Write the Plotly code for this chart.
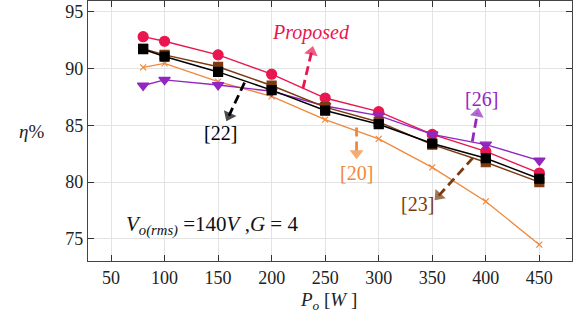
import math
import plotly.graph_objects as go

power = [80, 100, 150, 200, 250, 300, 350, 400, 450]
eff_proposed = [92.8, 92.4, 91.2, 89.5, 87.4, 86.2, 84.2, 82.7, 80.8]
eff_ref22 = [91.7, 91.05, 89.7, 88.1, 86.3, 85.1, 83.4, 82.1, 80.3]
eff_ref23 = [91.75, 91.2, 90.15, 88.5, 86.6, 85.3, 83.3, 81.75, 80.0]
eff_ref20 = [90.1, 90.45, 88.85, 87.55, 85.5, 83.8, 81.3, 78.3, 74.5]
eff_ref26 = [88.5, 89.0, 88.55, 88.0, 86.7, 85.85, 84.2, 83.3, 81.9]

xticks = [50, 100, 150, 200, 250, 300, 350, 400, 450]
yticks = [75, 80, 85, 90, 95]

C_PROP = "#E8174F"
C_22 = "#000000"
C_23 = "#7B3A10"
C_20 = "#F0883A"
C_26 = "#9326C0"

FONT = "Liberation Serif"

XR = [28.5, 480.5]
YR = [73.06, 95.94]
ML, MR, MT, MB = 88, 13, 1, 63
W, H = 585, 324
PXX = (W - ML - MR) / (XR[1] - XR[0])
PXY = (H - MT - MB) / (YR[1] - YR[0])

fig = go.Figure()

def add(y, color, symbol, size, lw=1.5):
    fig.add_trace(go.Scatter(x=power, y=y, mode="lines+markers",
                             line=dict(color=color, width=lw),
                             marker=dict(symbol=symbol, size=size, color=color,
                                         line=dict(width=1.2, color=color)),
                             showlegend=False, hoverinfo="skip"))

add(eff_ref20, C_20, "x-thin", 6, 1.3)
add(eff_proposed, C_PROP, "circle", 10, 1.4)
add(eff_ref26, C_26, "triangle-down", 10, 1.4)
add(eff_ref23, C_23, "square", 9)
add(eff_ref22, C_22, "square", 9)

# annotation arrows: (label, text pos, tail, head, color, italic)
arrows = [
    ("Proposed", (236.6, 93.2), (229.2, 88.23), (238.5, 91.94), C_PROP, True),
    ("[22]", (152.5, 84.35), (174.7, 88.76), (157.9, 85.4), C_22, False),
    ("[20]", (279.3, 80.8), (279.3, 84.8), (279.3, 82.05), C_20, False),
    ("[23]", (336.5, 78.1), (388.0, 82.14), (352.5, 78.44), C_23, False),
    ("[26]", (396.0, 87.35), (387.4, 83.58), (393.0, 86.52), C_26, False),
]

for label, tpos, tail, head, color, ital in arrows:
    dx = head[0] - tail[0]
    dy = head[1] - tail[1]
    L = math.hypot(dx * PXX, dy * PXY)
    f = 1 - 5.5 / L
    mid = (tail[0] + f * dx, tail[1] + f * dy)
    fig.add_trace(go.Scatter(x=[tail[0], mid[0]], y=[tail[1], mid[1]], mode="lines+markers",
                             line=dict(color=color, width=2.8, dash="9px,5px"),
                             marker=dict(symbol="triangle-up", size=[0, 12], color=color,
                                         angleref="previous", line=dict(width=0)),
                             showlegend=False, hoverinfo="skip"))
    txt = f"<i>{label}</i>" if ital else label
    fig.add_annotation(x=tpos[0], y=tpos[1], xref="x", yref="y", text=txt,
                       showarrow=False, font=dict(family=FONT, size=20, color=color))

fig.add_annotation(x=144, y=76.2, xref="x", yref="y",
                   text="<i>V</i><sub><i>o(rms)</i></sub> =140<i>V</i> ,<i>G</i> = 4",
                   showarrow=False, font=dict(family=FONT, size=21, color="#111"))

# axis titles
fig.add_annotation(x=(328 - ML) / (W - ML - MR), y=-(301 - (H - MB)) / (H - MT - MB),
                   xref="paper", yref="paper", xanchor="center", yanchor="middle",
                   text="<i>P</i><sub><i>o</i></sub> [<i>W</i> ]", showarrow=False,
                   font=dict(family=FONT, size=19, color="#222"))
fig.add_annotation(x=-(ML - 31) / (W - ML - MR), y=((H - MB) - 131) / (H - MT - MB),
                   xref="paper", yref="paper", xanchor="center", yanchor="middle",
                   text="<i>η</i>%", showarrow=False,
                   font=dict(family=FONT, size=19, color="#222"))

tickfont = dict(family=FONT, size=18, color="#222")
fig.update_layout(
    width=W, height=H,
    margin=dict(l=ML, r=MR, t=MT, b=MB),
    paper_bgcolor="white", plot_bgcolor="white",
    font=dict(family=FONT, size=18, color="#222"),
    xaxis=dict(range=XR, tickvals=xticks, ticktext=[str(v) for v in xticks],
               tickfont=tickfont,
               showgrid=True, gridcolor="#e3e3e3", gridwidth=1, automargin=False,
               showline=True, linecolor="#444", linewidth=1.3, mirror="ticks",
               ticks="inside", ticklen=6, tickcolor="#333", zeroline=False),
    yaxis=dict(range=YR, tickvals=yticks, ticktext=[str(v) for v in yticks],
               tickfont=tickfont,
               showgrid=True, gridcolor="#e3e3e3", gridwidth=1, automargin=False,
               showline=True, linecolor="#444", linewidth=1.3, mirror="ticks",
               ticks="inside", ticklen=6, tickcolor="#333", zeroline=False),
)

fig.write_html("out.html", config={"displayModeBar": False},
               post_script="document.body.style.margin='0';document.body.style.overflow='hidden';")
